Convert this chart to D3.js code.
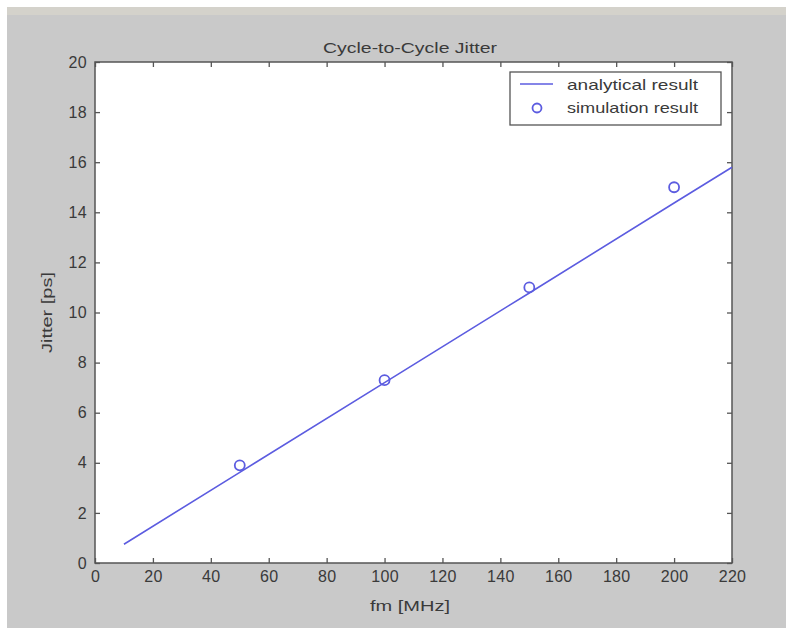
<!DOCTYPE html>
<html><head><meta charset="utf-8">
<script src="https://cdn.jsdelivr.net/npm/d3@7"></script>
<style>body{margin:0;background:#fff;} text{font-family:"Liberation Sans",Arial,sans-serif;}</style>
</head><body>
<svg id="chart" width="786" height="628"></svg>
<script>
const title = "Cycle-to-Cycle Jitter";
const xLabel = "fm [MHz]";
const yLabel = "Jitter [ps]";
const xTicks = [0,20,40,60,80,100,120,140,160,180,200,220];
const yTicks = [0,2,4,6,8,10,12,14,16,18,20];
const analyticalX = [10, 50, 100, 150, 200, 220];
const analyticalY = [0.75, 3.62, 7.2, 10.78, 14.37, 15.8];
const simX = [50, 100, 150, 200];
const simY = [3.9, 7.3, 11.0, 15.0];
const legendLabels = ["analytical result", "simulation result"];

const svg = d3.select("#chart");
const W = 786, H = 628;
svg.append("rect").attr("x",0).attr("y",0).attr("width",W).attr("height",H).attr("fill","#ffffff");
svg.append("rect").attr("x",7).attr("y",7).attr("width",W-7).attr("height",H-7).attr("fill","#c9c9c9");
svg.append("rect").attr("x",7).attr("y",7).attr("width",W-7).attr("height",8).attr("fill","#d4d2cb");

const L = 95, R = 732, T = 62, B = 563;
const x = d3.scaleLinear().domain([0,220]).range([L,R]);
const y = d3.scaleLinear().domain([0,20]).range([B,T]);

svg.append("rect").attr("x",L).attr("y",T).attr("width",R-L).attr("height",B-T).attr("fill","#ffffff");

const axisColor = "#555";
const txtColor = "#3a3a3a";
const tk = 5;
function styleAxis(g){
  g.select(".domain").remove();
  g.selectAll(".tick line").attr("stroke",axisColor).attr("stroke-width",1.3);
  g.selectAll(".tick text").attr("fill",txtColor).style("font-size","16px").style("letter-spacing","0.3px");
}
svg.append("g").attr("transform",`translate(0,${B})`)
  .call(d3.axisBottom(x).tickValues(xTicks).tickSize(-tk).tickPadding(8).tickFormat(d3.format("d")))
  .call(styleAxis);
svg.append("g").attr("transform",`translate(0,${T})`)
  .call(d3.axisTop(x).tickValues(xTicks).tickSize(-tk).tickFormat(""))
  .call(styleAxis);
svg.append("g").attr("transform",`translate(${L},0)`)
  .call(d3.axisLeft(y).tickValues(yTicks).tickSize(-tk).tickPadding(8).tickFormat(d3.format("d")))
  .call(styleAxis);
svg.append("g").attr("transform",`translate(${R},0)`)
  .call(d3.axisRight(y).tickValues(yTicks).tickSize(-tk).tickFormat(""))
  .call(styleAxis);

svg.append("rect").attr("x",L).attr("y",T).attr("width",R-L).attr("height",B-T)
  .attr("fill","none").attr("stroke",axisColor).attr("stroke-width",1.5);

const blue = "#5c5ce0";
const lineData = analyticalX.map((v,i)=>[v, analyticalY[i]]);
svg.append("path").datum(lineData)
  .attr("d", d3.line().x(d=>x(d[0])).y(d=>y(d[1])))
  .attr("fill","none").attr("stroke",blue).attr("stroke-width",1.6);

svg.selectAll("circle.sim").data(simX.map((v,i)=>[v, simY[i]])).enter()
  .append("circle").attr("class","sim")
  .attr("cx",d=>x(d[0])).attr("cy",d=>y(d[1])).attr("r",5)
  .attr("fill","none").attr("stroke",blue).attr("stroke-width",1.8);

// legend
const lg = svg.append("g");
lg.append("rect").attr("x",510).attr("y",72).attr("width",211).attr("height",53)
  .attr("fill","#fff").attr("stroke",axisColor).attr("stroke-width",1.3);
lg.append("line").attr("x1",520).attr("x2",553).attr("y1",84).attr("y2",84)
  .attr("stroke",blue).attr("stroke-width",1.6);
lg.append("circle").attr("cx",537).attr("cy",108).attr("r",4.5)
  .attr("fill","none").attr("stroke",blue).attr("stroke-width",1.8);
lg.selectAll("text.lt").data(legendLabels).enter().append("text").attr("class","lt")
  .attr("x",567).attr("y",(d,i)=>90+i*23).text(d=>d)
  .attr("textLength",131).attr("lengthAdjust","spacingAndGlyphs")
  .attr("fill",txtColor).style("font-size","15px");

svg.append("text").attr("x",410).attr("y",53).attr("text-anchor","middle")
  .attr("textLength",174).attr("lengthAdjust","spacingAndGlyphs")
  .attr("fill",txtColor).style("font-size","15px").text(title);
svg.append("text").attr("x",410).attr("y",611).attr("text-anchor","middle")
  .attr("textLength",80).attr("lengthAdjust","spacingAndGlyphs")
  .attr("fill",txtColor).style("font-size","15px").text(xLabel);
svg.append("text").attr("transform",`translate(52,${(T+B)/2}) rotate(-90)`).attr("text-anchor","middle")
  .attr("textLength",81).attr("lengthAdjust","spacingAndGlyphs")
  .attr("fill",txtColor).style("font-size","15px").text(yLabel);
</script>
</body></html>
